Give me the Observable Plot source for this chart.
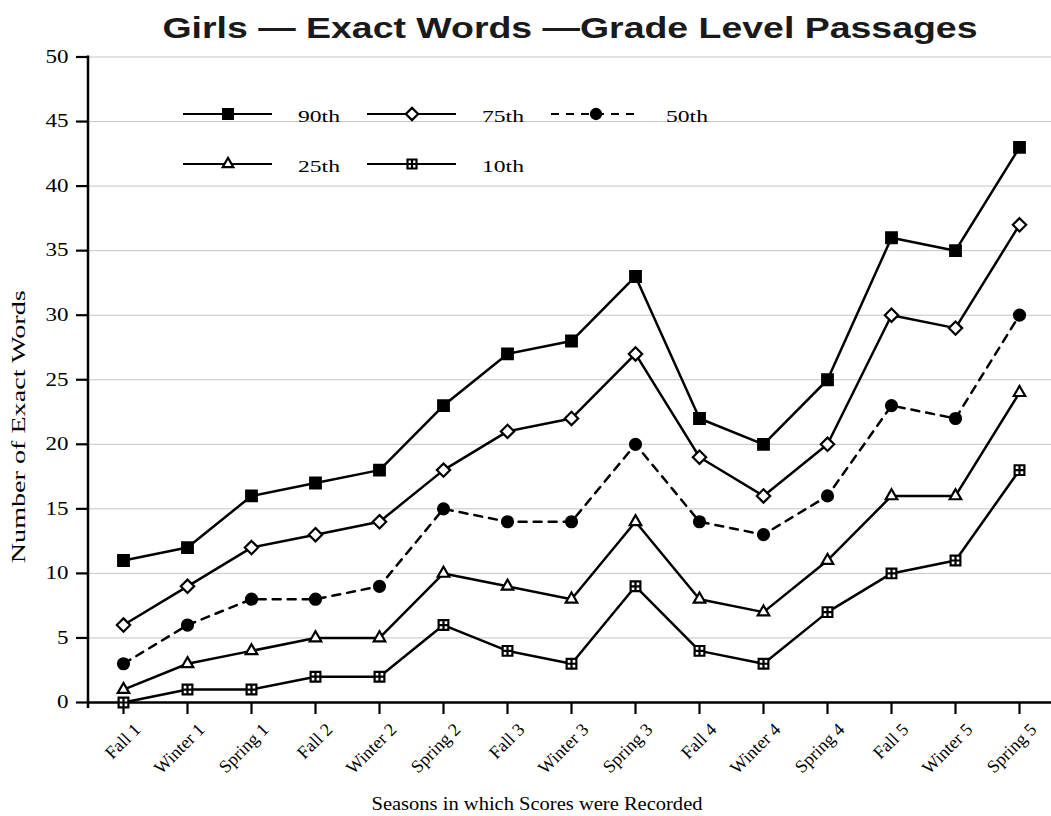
<!DOCTYPE html>
<html>
<head>
<meta charset="utf-8">
<script src="https://cdn.jsdelivr.net/npm/d3@7"></script>
<script src="https://cdn.jsdelivr.net/npm/@observablehq/plot@0.6"></script>
<style>
  body { margin: 0; background: #fff; }
  #wrap { position: relative; width: 1051px; height: 816px; overflow: hidden; }
  #title { height: 47px; display: block; }
  #legend { position: absolute; left: 0; top: 0; pointer-events: none; }
</style>
</head>
<body>
<div id="wrap">
  <svg id="title" width="1051" height="47">
    <text x="570" y="38" text-anchor="middle" font-family="Liberation Sans, Arial, sans-serif"
      font-weight="bold" font-size="30" fill="#1a1a1a" textLength="815" lengthAdjust="spacingAndGlyphs">Girls — Exact Words —Grade Level Passages</text>
  </svg>
  <div id="chart"></div>
</div>
<script>
const seasons = ["Fall 1","Winter 1","Spring 1","Fall 2","Winter 2","Spring 2","Fall 3","Winter 3","Spring 3","Fall 4","Winter 4","Spring 4","Fall 5","Winter 5","Spring 5"];
const p90 = [11,12,16,17,18,23,27,28,33,22,20,25,36,35,43];
const p75 = [6,9,12,13,14,18,21,22,27,19,16,20,30,29,37];
const p50 = [3,6,8,8,9,15,14,14,20,14,13,16,23,22,30];
const p25 = [1,3,4,5,5,10,9,8,14,8,7,11,16,16,24];
const p10 = [0,1,1,2,2,6,4,3,9,4,3,7,10,11,18];
const yTicks = [0,5,10,15,20,25,30,35,40,45,50];
const seriesNames = ["90th","75th","50th","25th","10th"];
const yTitle = "Number of Exact Words";
const xTitle = "Seasons in which Scores were Recorded";

const squarePlus = {
  draw(context, size) {
    const r = Math.sqrt(size) / 2;
    context.moveTo(-r, -r); context.lineTo(r, -r); context.lineTo(r, r); context.lineTo(-r, r); context.closePath();
    context.moveTo(0, -r); context.lineTo(0, r);
    context.moveTo(-r, 0); context.lineTo(r, 0);
  }
};

const series = [
  {name: seriesNames[0], values: p90, symbol: "square", fill: "black", dash: null, r: 6},
  {name: seriesNames[1], values: p75, symbol: "diamond2", fill: "white", dash: null, r: 6},
  {name: seriesNames[2], values: p50, symbol: "circle", fill: "black", dash: "8,7", r: 5.5},
  {name: seriesNames[3], values: p25, symbol: "triangle2", fill: "white", dash: null, r: 5.5},
  {name: seriesNames[4], values: p10, symbol: squarePlus, fill: "white", dash: null, r: 5.5}
];

const rows = series.map(s => seasons.map((season, i) => ({season, value: s.values[i], series: s.name})));

const TITLE_H = 47;
const width = 1051, height = 816 - TITLE_H;
const serif = "Liberation Serif, Times New Roman, serif";

const marks = [
  Plot.ruleY(yTicks.filter(d => d > 0), {stroke: "#c4c4c4", strokeWidth: 1}),
  Plot.axisY({ticks: yTicks, tickSize: 12, tickPadding: 8, label: null,
    fontSize: 18, fontFamily: serif, strokeWidth: 2.2}),
  Plot.axisX({tickSize: 12, tickFormat: () => "", label: null, strokeWidth: 2.2}),
  Plot.text(seasons, {x: d => d, frameAnchor: "bottom", rotate: -45, textAnchor: "end",
    lineAnchor: "middle", dx: 14, dy: 24, fontSize: 18, fontFamily: serif, fill: "black"}),
  Plot.ruleY([0], {stroke: "black", strokeWidth: 2.5}),
  (index, scales, values, dims) => {
    const l = document.createElementNS("http://www.w3.org/2000/svg", "line");
    l.setAttribute("x1", dims.marginLeft); l.setAttribute("x2", dims.marginLeft);
    l.setAttribute("y1", dims.marginTop - 1); l.setAttribute("y2", dims.height - dims.marginBottom + 6);
    l.setAttribute("stroke", "black"); l.setAttribute("stroke-width", 2.5);
    return l;
  },
  Plot.text([yTitle], {frameAnchor: "left", textAnchor: "middle", lineAnchor: "middle", rotate: -90, dx: -69, dy: 47,
    fontSize: 18, fontFamily: serif, fill: "black"}),
  Plot.text([xTitle], {frameAnchor: "bottom", textAnchor: "middle", lineAnchor: "middle", dy: 101, dx: -33,
    fontSize: 19, fontFamily: serif, fill: "black"})
];

series.forEach((s, k) => {
  marks.push(Plot.line(rows[k], {x: "season", y: "value", stroke: "black", strokeWidth: 2.5,
    strokeDasharray: s.dash || undefined}));
});
series.forEach((s, k) => {
  marks.push(Plot.dot(rows[k], {x: "season", y: "value", symbol: s.symbol, r: s.r,
    fill: s.fill, stroke: "black", strokeWidth: 2.2}));
});

const chart = Plot.plot({
  width, height,
  marginLeft: 88, marginRight: 0, marginTop: 9.5, marginBottom: 114,
  x: {type: "point", domain: seasons, range: [119, 1022], padding: 0},
  y: {domain: [0, 50]},
  style: {background: "white", color: "black", overflow: "visible"},
  marks
});
document.getElementById("chart").appendChild(chart);

// stretch text widths like the reference
const csel = d3.select(chart);
csel.selectAll('g[aria-label="y-axis tick label"] text').each(function() {
  const n = this.textContent.length;
  d3.select(this).attr("textLength", n === 1 ? 11.5 : 23).attr("lengthAdjust", "spacingAndGlyphs");
});
csel.selectAll("text").filter(function() { return this.textContent === yTitle; })
  .attr("textLength", 273).attr("lengthAdjust", "spacingAndGlyphs");
csel.selectAll("text").filter(function() { return this.textContent === xTitle; })
  .attr("textLength", 331).attr("lengthAdjust", "spacingAndGlyphs");

// Legend overlay
const legendItems = [
  {s: series[0], col: 0, row: 0},
  {s: series[1], col: 1, row: 0},
  {s: series[2], col: 2, row: 0},
  {s: series[3], col: 0, row: 1},
  {s: series[4], col: 1, row: 1}
];
const colX = [183, 367, 551];
const rowY = [114, 164];
const symMap = {square: d3.symbolSquare, diamond2: d3.symbolDiamond2, circle: d3.symbolCircle, triangle2: d3.symbolTriangle2};
const lsvg = d3.select("#wrap").append("svg").attr("id", "legend").attr("width", width).attr("height", 816);
legendItems.forEach(({s, col, row}) => {
  const x0 = colX[col], y0 = rowY[row];
  const g = lsvg.append("g");
  g.append("line").attr("x1", x0).attr("x2", x0 + 89).attr("y1", y0).attr("y2", y0)
    .attr("stroke", "black").attr("stroke-width", 2).attr("stroke-dasharray", s.dash ? "8,7" : null);
  const type = typeof s.symbol === "string" ? symMap[s.symbol] : s.symbol;
  g.append("path").attr("d", d3.symbol(type, Math.PI * s.r * s.r * 0.85)())
    .attr("transform", `translate(${x0 + 45},${y0})`)
    .attr("fill", s.fill).attr("stroke", "black").attr("stroke-width", 2.2);
  g.append("text").attr("x", x0 + 115).attr("y", y0 + 2).attr("dy", "0.35em")
    .attr("font-family", serif).attr("font-size", 17)
    .attr("textLength", 42).attr("lengthAdjust", "spacingAndGlyphs").text(s.name);
});
</script>
</body>
</html>
